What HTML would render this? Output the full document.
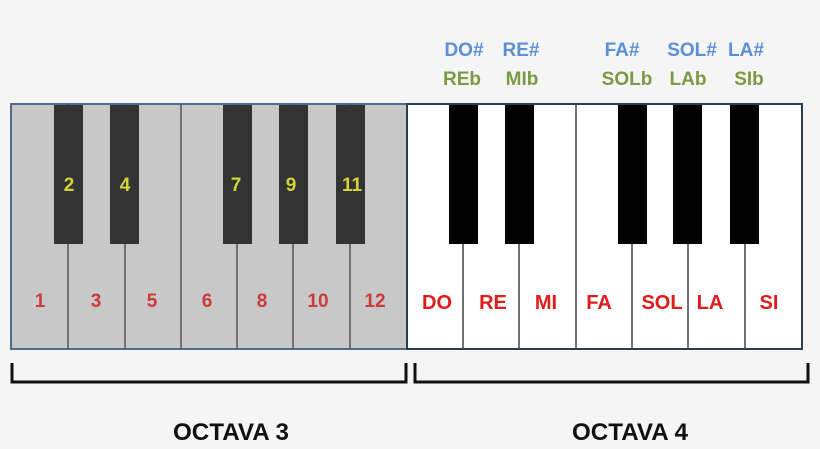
<!DOCTYPE html>
<html><head><meta charset="utf-8"><style>
html,body{margin:0;padding:0;background:#f5f5f5;}
svg{display:block;}
text{font-family:"Liberation Sans",sans-serif;font-weight:bold;}
</style></head><body>
<svg width="820" height="449" viewBox="0 0 820 449" xmlns="http://www.w3.org/2000/svg">
<rect width="820" height="449" fill="#f5f5f5"/>
<rect x="11" y="104" width="396" height="245" fill="#c8c8c8" stroke="#4f6b8e" stroke-width="2"/>
<g stroke="#555" stroke-width="1.5">
<line x1="68" y1="104" x2="68" y2="349"/><line x1="125" y1="104" x2="125" y2="349"/>
<line x1="181" y1="104" x2="181" y2="349"/><line x1="237" y1="104" x2="237" y2="349"/>
<line x1="293" y1="104" x2="293" y2="349"/><line x1="350" y1="104" x2="350" y2="349"/>
</g>
<g fill="#333">
<rect x="54" y="105" width="29" height="139"/><rect x="110" y="105" width="29" height="139"/>
<rect x="223" y="105" width="29" height="139"/><rect x="279" y="105" width="29" height="139"/>
<rect x="336" y="105" width="29" height="139"/>
</g>
<g fill="#d4d43a" font-size="19" text-anchor="middle">
<text x="69" y="191">2</text><text x="125" y="191">4</text><text x="236" y="191">7</text>
<text x="291" y="191">9</text><text x="352" y="191">11</text>
</g>
<g fill="#cc3b3b" font-size="19" text-anchor="middle">
<text x="40" y="307">1</text><text x="96" y="307">3</text><text x="152" y="307">5</text>
<text x="207" y="307">6</text><text x="262" y="307">8</text><text x="318" y="307">10</text><text x="375" y="307">12</text>
</g>
<rect x="407" y="104" width="395" height="245" fill="#fff" stroke="#2c3e55" stroke-width="2"/>
<g stroke="#444" stroke-width="1.5">
<line x1="463" y1="104" x2="463" y2="349"/><line x1="519" y1="104" x2="519" y2="349"/>
<line x1="576" y1="104" x2="576" y2="349"/><line x1="632" y1="104" x2="632" y2="349"/>
<line x1="688" y1="104" x2="688" y2="349"/><line x1="745" y1="104" x2="745" y2="349"/>
</g>
<g fill="#000">
<rect x="449" y="105" width="29" height="139"/><rect x="505" y="105" width="29" height="139"/>
<rect x="618" y="105" width="29" height="139"/><rect x="673" y="105" width="29" height="139"/>
<rect x="730" y="105" width="29" height="139"/>
</g>
<g fill="#e01b1b" font-size="20" text-anchor="middle">
<text x="437" y="309">DO</text><text x="493" y="309">RE</text><text x="546" y="309">MI</text>
<text x="599" y="309">FA</text><text x="662" y="309">SOL</text><text x="710" y="309">LA</text><text x="769" y="309">SI</text>
</g>
<g fill="#5b8fd6" font-size="19" text-anchor="middle">
<text x="464" y="56">DO#</text><text x="521" y="56">RE#</text><text x="622" y="56">FA#</text>
<text x="692" y="56">SOL#</text><text x="746" y="56">LA#</text>
</g>
<g fill="#7a9a44" font-size="19" text-anchor="middle">
<text x="462" y="85">REb</text><text x="522" y="85">MIb</text><text x="627" y="85">SOLb</text>
<text x="688" y="85">LAb</text><text x="749" y="85">SIb</text>
</g>
<g fill="none" stroke="#111" stroke-width="3">
<path d="M12 363 V382 H406 V363"/>
<path d="M415 363 V382 H808 V363"/>
</g>
<g fill="#111" font-size="24" text-anchor="middle">
<text x="231" y="440" textLength="116" lengthAdjust="spacingAndGlyphs">OCTAVA 3</text>
<text x="630" y="440" textLength="116" lengthAdjust="spacingAndGlyphs">OCTAVA 4</text>
</g>
</svg>
</body></html>
